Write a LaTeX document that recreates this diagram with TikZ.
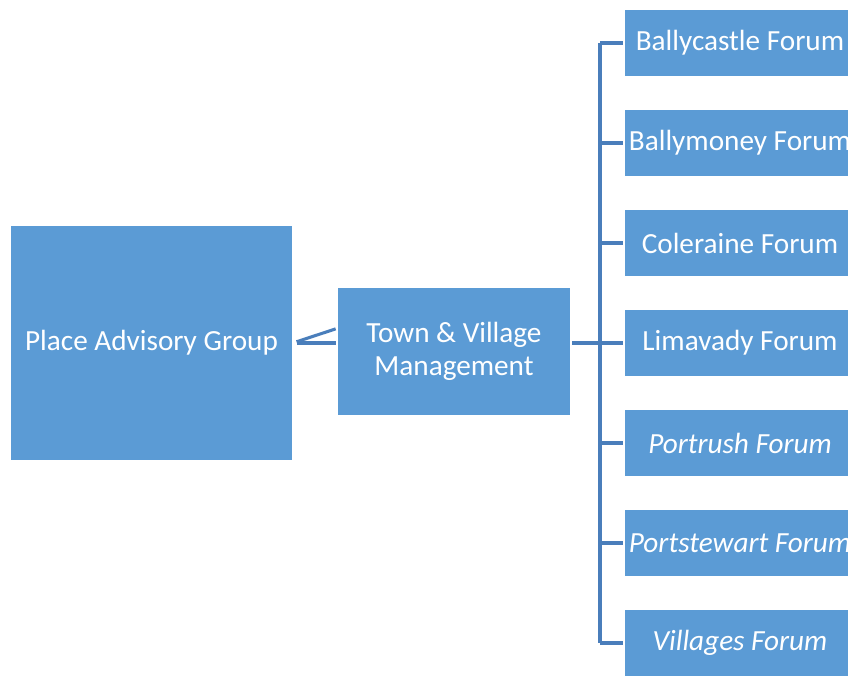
\documentclass[tikz,border=0pt]{standalone}
\usepackage{fontspec}
\setmainfont{Carlito}
\definecolor{boxblue}{HTML}{5B9BD5}
\definecolor{linkblue}{HTML}{4A7EBB}
\begin{document}
\begin{tikzpicture}[x=0.02646cm,y=-0.02646cm,box/.style={fill=boxblue,text=white,align=center,inner sep=0pt,font=\fontsize{22}{25}\selectfont},link/.style={draw=linkblue,line width=2.3pt}]
\path[use as bounding box,clip] (0,0) rectangle (848,675);
\node[box,minimum width=283*0.75pt,minimum height=234*0.75pt] (pag) at (151.5,343) {Place Advisory Group};
\node[box,minimum width=232*0.75pt,minimum height=127*0.75pt] (tvm) at (454,351.5) {Town \& Village\\Management};
\foreach \name/\label [count=\i] in {fa/Ballycastle Forum,fb/Ballymoney Forum,fc/Coleraine Forum,fd/Limavady Forum,fe/\textit{Portrush Forum},ff/\textit{Portstewart Forum},fg/\textit{Villages Forum}}
  \node[box,minimum width=230*0.75pt,minimum height=67*0.75pt] (\name) at (740,{43+100*(\i-1)}) {\label};
\coordinate (hub) at (600,343);
\draw[link,shorten <=3pt,shorten >=2pt] (pag.east) -- (pag.east -| tvm.west);
\draw[link,shorten <=3pt,shorten >=2pt] (pag.east) -- ([yshift=15*0.75pt]pag.east -| tvm.west);
\draw[link,shorten <=2pt] (tvm.east |- hub) -- (hub);
\draw[link] (fa.west -| hub) -- (fg.west -| hub);
\foreach \name in {fa,fb,fc,fd,fe,ff,fg}
  \draw[link,shorten >=2pt] (\name.west -| hub) -- (\name.west);
\end{tikzpicture}
\end{document}
